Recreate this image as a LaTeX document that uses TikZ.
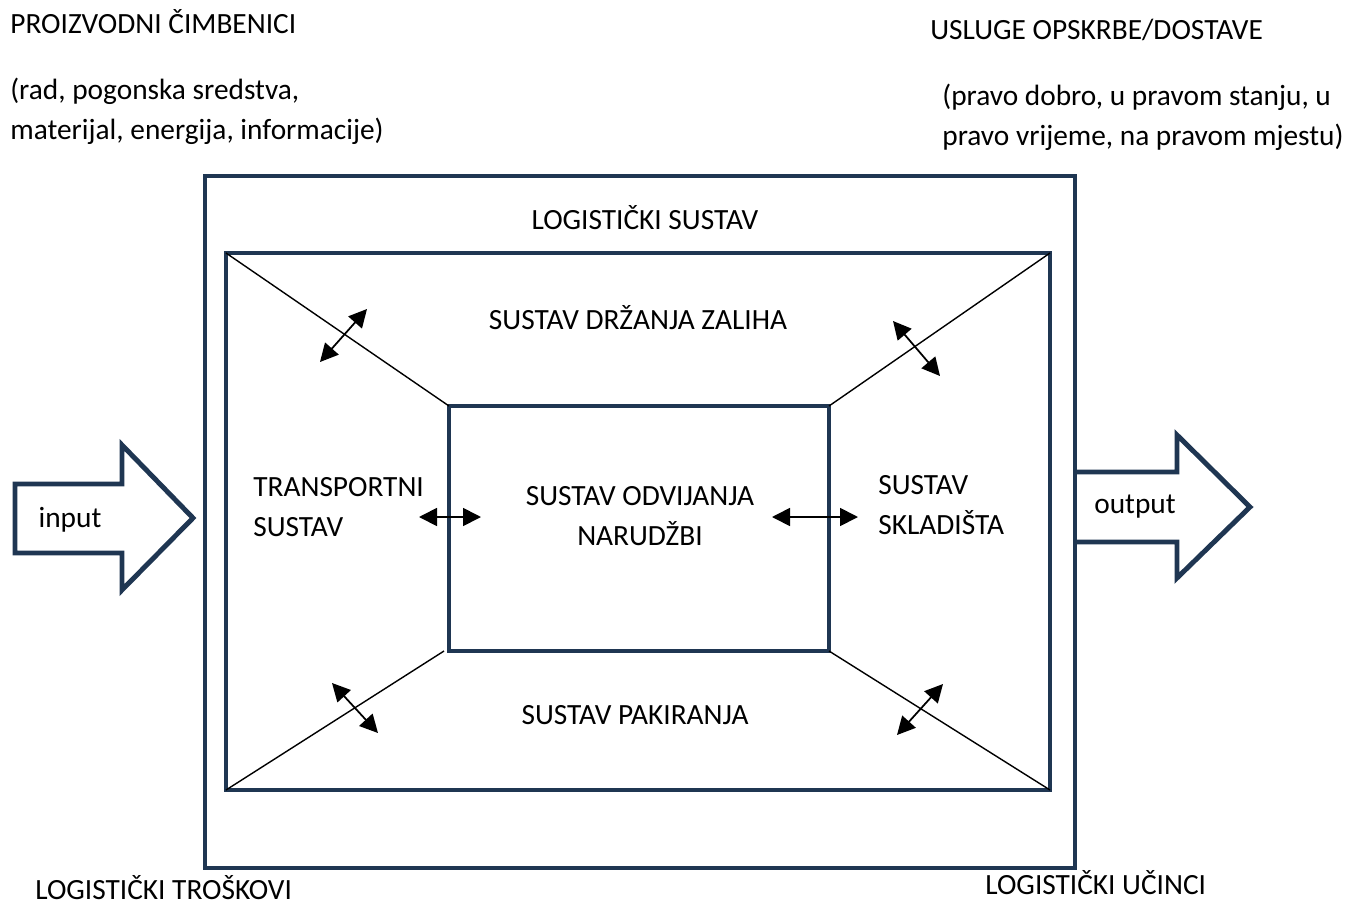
\documentclass[tikz,border=0pt]{standalone}
\usepackage{fontspec}
\setmainfont{Carlito}
\usetikzlibrary{arrows.meta}

\definecolor{boxnavy}{RGB}{31,54,82}

\tikzset{
  frame/.style={draw=boxnavy, line width=2.8pt},
  thin/.style={draw=black, line width=0.8pt},
  both/.style={{Triangle[length=3.6mm,width=3.6mm]}-{Triangle[length=3.6mm,width=3.6mm]}, line width=1pt},
  txt/.style={font=\fontsize{16.7}{23}\selectfont, inner sep=0pt},
}

\begin{document}
\begin{tikzpicture}[x=0.02cm, y=-0.02cm]
  \useasboundingbox (0,0) rectangle (1346,923);

  % boxes
  \draw [frame] (205,176) rectangle (1075,868);
  \draw [frame] (226,253) rectangle (1050,790);
  \draw [frame] (449,406) rectangle (829,651);

  % corners
  \coordinate (OTL) at (226,253);  \coordinate (OTR) at (1050,253);
  \coordinate (OBL) at (226,790);  \coordinate (OBR) at (1050,790);
  \coordinate (ITL) at (449,406);  \coordinate (ITR) at (829,406);
  \coordinate (IBL) at (444,651);  \coordinate (IBR) at (829,651);
  \draw [thin] (OTL) -- (ITL);
  \draw [thin] (OTR) -- (ITR);
  \draw [thin] (OBL) -- (IBL);
  \draw [thin] (OBR) -- (IBR);

  % double arrows
  \coordinate (A1) at (320,362); \coordinate (A2) at (367,309);
  \coordinate (B1) at (893,321); \coordinate (B2) at (940,376);
  \coordinate (C1) at (332,683); \coordinate (C2) at (378,733);
  \coordinate (D1) at (943,684); \coordinate (D2) at (897,735);
  \coordinate (E1) at (419,517); \coordinate (E2) at (481,517);
  \coordinate (F1) at (772,517); \coordinate (F2) at (858,517);
  \draw [both] (A1) -- (A2);
  \draw [both] (B1) -- (B2);
  \draw [both] (C1) -- (C2);
  \draw [both] (D1) -- (D2);
  \draw [both] (E1) -- (E2);
  \draw [both] (F1) -- (F2);

  % input / output
  \draw [frame, line join=miter] (15,484) -- (122,484) -- (122,445) -- (193,518)
        -- (122,590) -- (122,553) -- (15,553) -- cycle;
  \draw [frame, line join=miter] (1075,472) -- (1177,472) -- (1177,435) -- (1250,507)
        -- (1177,578) -- (1177,542) -- (1075,542);
  \node [txt] (IN) at (70,520) {input};
  \node [txt] (OUT) at (1135,507) {output};

  % labels
  \node [txt, anchor=west] (PF) at (10,22) {PROIZVODNI ČIMBENICI};
  \node [txt, anchor=west, align=left] (PFL) at (10,111)
        {(rad, pogonska sredstva,\\materijal, energija, informacije)};
  \node [txt, anchor=west] (US) at (930,30) {USLUGE OPSKRBE/DOSTAVE};
  \node [txt, anchor=west, align=left] (USL) at (942,117)
        {(pravo dobro, u pravom stanju, u\\pravo vrijeme, na pravom mjestu)};
  \node [txt] (LS) at (645,218) {LOGISTIČKI SUSTAV};
  \node [txt] (SZ) at (638,318) {SUSTAV DRŽANJA ZALIHA};
  \node [txt, anchor=west, align=left] (TS) at (253,507) {TRANSPORTNI\\SUSTAV};
  \node [txt, align=center] (SN) at (640,516) {SUSTAV ODVIJANJA\\NARUDŽBI};
  \node [txt, anchor=west, align=left] (SK) at (878,505) {SUSTAV\\SKLADIŠTA};
  \node [txt] (SP) at (635,715) {SUSTAV PAKIRANJA};
  \node [txt, anchor=west] (LT) at (35,888) {LOGISTIČKI TROŠKOVI};
  \node [txt, anchor=west] (LU) at (985,883) {LOGISTIČKI UČINCI};
\end{tikzpicture}
\end{document}
